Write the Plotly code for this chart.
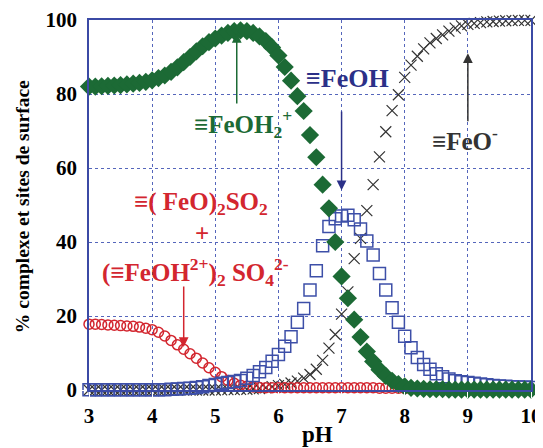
import plotly.graph_objects as go

ph = [round(3 + 0.1 * i, 1) for i in range(71)]

feoh2 = [82.0, 82.0, 82.1, 82.2, 82.3, 82.4, 82.6, 82.8, 83.0, 83.3,
         83.7, 84.3, 85.0, 86.0, 87.2, 88.6, 90.0, 91.5, 92.9, 94.0,
         95.0, 95.8, 96.5, 97.0, 97.2, 97.0, 96.5, 95.6, 94.3, 92.6,
         90.4, 87.3, 83.6, 79.4, 75.4, 68.9, 62.9, 55.5, 49.1, 40.0,
         30.7, 24.8, 19.0, 14.3, 10.4, 7.7, 5.5, 3.8, 2.5, 1.6,
         1.0, 0.6, 0.4, 0.3, 0.2, 0.2, 0.2, 0.1, 0.1, 0.1,
         0.1, 0.1, 0.1, 0.1, 0.1, 0.1, 0.1, 0.1, 0.1, 0.1, 0.1]

feoh = [0.1, 0.1, 0.1, 0.1, 0.1, 0.1, 0.1, 0.1, 0.1, 0.1,
        0.1, 0.1, 0.1, 0.2, 0.3, 0.4, 0.5, 0.7, 0.9, 1.2,
        1.5, 1.8, 2.0, 2.3, 2.6, 3.2, 3.9, 4.9, 6.1, 7.8,
        9.6, 11.8, 14.4, 18.3, 22.0, 27.0, 32.2, 39.0, 44.2, 46.3,
        47.0, 47.2, 46.0, 43.5, 40.3, 36.5, 31.5, 27.0, 22.2, 18.3,
        14.5, 11.4, 8.8, 6.9, 5.6, 4.4, 3.6, 3.0, 2.5, 2.2,
        2.0, 1.8, 1.6, 1.4, 1.2, 1.1, 1.0, 0.9, 0.8, 0.8, 0.7]

feo = [0.0, 0.0, 0.0, 0.0, 0.0, 0.0, 0.0, 0.0, 0.0, 0.0,
       0.0, 0.0, 0.0, 0.0, 0.0, 0.0, 0.0, 0.0, 0.0, 0.0,
       0.0, 0.05, 0.1, 0.1, 0.15, 0.2, 0.3, 0.4, 0.6, 0.9,
       1.2, 1.5, 1.9, 2.4, 3.2, 4.2, 5.6, 8.0, 11.3, 15.0,
       20.5, 26.5, 35.5, 41.0, 48.5, 55.5, 63.0, 69.8, 75.5, 79.8,
       84.5, 87.8, 90.2, 92.2, 93.8, 95.0, 96.0, 97.0, 97.8, 98.4,
       98.8, 99.1, 99.3, 99.5, 99.6, 99.7, 99.8, 99.85, 99.9, 99.9, 99.9]

sulfate = [17.8, 17.8, 17.7, 17.6, 17.5, 17.4, 17.3, 17.2, 17.0, 16.7,
           16.3, 15.6, 14.6, 13.4, 12.2, 11.0, 9.8, 8.6, 7.3, 6.0,
           4.8, 3.6, 2.6, 1.8, 1.3, 1.0, 0.8, 0.7, 0.6, 0.6,
           0.6, 0.6, 0.6, 0.6, 0.6, 0.6, 0.6, 0.6, 0.6, 0.6,
           0.6, 0.6, 0.6, 0.6, 0.6, 0.6, 0.5, 0.5, 0.5, 0.5,
           0.4, 0.3, 0.2, 0.2, 0.1, 0.1, 0.1, 0.1, 0.1, 0.1,
           0.1, 0.1, 0.1, 0.1, 0.1, 0.1, 0.1, 0.1, 0.1, 0.1, 0.1]

x_ticks = [3, 4, 5, 6, 7, 8, 9, 10]
y_ticks = [0, 20, 40, 60, 80, 100]

GREEN = "#1c6a35"
BLUE = "#3d4fa8"
NAVY = "#2b3088"
RED = "#d3262f"
BLACK = "#333333"
AXIS = "#3b4aa5"
GRID = "#5566bb"
FONT = "Liberation Serif"

fig = go.Figure()
fig.add_trace(go.Scatter(x=ph, y=feo, mode="markers", cliponaxis=False,
                         marker=dict(symbol="x-thin", size=11, color=BLACK,
                                     line=dict(width=1.2, color=BLACK))))
fig.add_trace(go.Scatter(x=ph, y=sulfate, mode="markers", cliponaxis=False,
                         marker=dict(symbol="circle-open", size=10, color=RED,
                                     line=dict(width=1.5, color=RED))))
fig.add_trace(go.Scatter(x=ph, y=feoh, mode="markers", cliponaxis=False,
                         marker=dict(symbol="square-open", size=12, color=BLUE,
                                     line=dict(width=1.5, color=BLUE))))
fig.add_trace(go.Scatter(x=ph, y=feoh2, mode="markers", cliponaxis=False,
                         marker=dict(symbol="diamond", size=14, color=GREEN,
                                     line=dict(width=0))))

ann = []
def txt(x, y, t, color, size=25):
    ann.append(dict(x=x, y=y, xref="x", yref="y", text=t, showarrow=False,
                    font=dict(family=FONT, size=size, color=color)))

def arrow(x, y0, y1, color):
    ann.append(dict(x=x, y=y1, ax=x, ay=y0, xref="x", yref="y", axref="x", ayref="y",
                    text="", showarrow=True, arrowhead=2, arrowsize=1.3,
                    arrowwidth=1.5, arrowcolor=color))

txt(5.44, 72, "<b>≡FeOH<sub>2</sub><sup>+</sup></b>", GREEN)
arrow(5.34, 77, 96.5, GREEN)
txt(7.1, 84.3, "<b>≡FeOH</b>", NAVY, 26)
arrow(7.0, 75.7, 54, NAVY)
txt(8.95, 67.8, "<b>≡FeO<sup>-</sup></b>", BLACK)
arrow(9.0, 72.2, 91, BLACK)
txt(4.77, 50.5, "<b>≡( FeO)<sub>2</sub>SO<sub>2</sub></b>", RED)
txt(4.79, 42.4, "<b>+</b>", RED)
txt(4.68, 31.9, "<b>(≡FeOH<sup>2+</sup>)<sub>2</sub> SO<sub>4</sub><sup>2-</sup></b>", RED)
arrow(4.5, 28.4, 11.6, RED)

# axis titles as paper annotations
ann.append(dict(x=-0.149, y=0.4946, xref="paper", yref="paper", xanchor="center",
                yanchor="middle", textangle=-90, showarrow=False,
                text="<b>% complexe et sites de surface</b>",
                font=dict(family=FONT, size=19.5, color="black")))
ann.append(dict(x=0.518, y=-0.1216, xref="paper", yref="paper", xanchor="center",
                yanchor="middle", showarrow=False, text="<b>pH</b>",
                font=dict(family=FONT, size=23, color="black")))

fig.update_layout(
    width=535, height=440,
    margin=dict(l=81, r=12, t=12, b=58),
    paper_bgcolor="white", plot_bgcolor="white",
    showlegend=False,
    font=dict(family=FONT, size=21, color="black"),
    annotations=ann,
)
fig.update_xaxes(range=[3, 10], tickvals=x_ticks, ticktext=["<b>%d</b>" % v for v in x_ticks],
                 showline=True, linecolor=AXIS, linewidth=1.5, mirror=True,
                 showgrid=True, gridcolor=GRID, griddash="dot", gridwidth=1,
                 zeroline=False, ticks="outside", ticklen=6, tickcolor="white",
                 automargin=False,
                 tickfont=dict(family=FONT, size=21, color="black"))
fig.update_yaxes(range=[0, 100], tickvals=y_ticks, ticktext=["<b>%d</b>" % v for v in y_ticks],
                 showline=True, linecolor=AXIS, linewidth=1.5, mirror=True,
                 showgrid=True, gridcolor=GRID, griddash="dot", gridwidth=1,
                 zeroline=False, ticks="outside", ticklen=6, tickcolor="white",
                 automargin=False,
                 tickfont=dict(family=FONT, size=21, color="black"))

fig.write_html("out.html")
